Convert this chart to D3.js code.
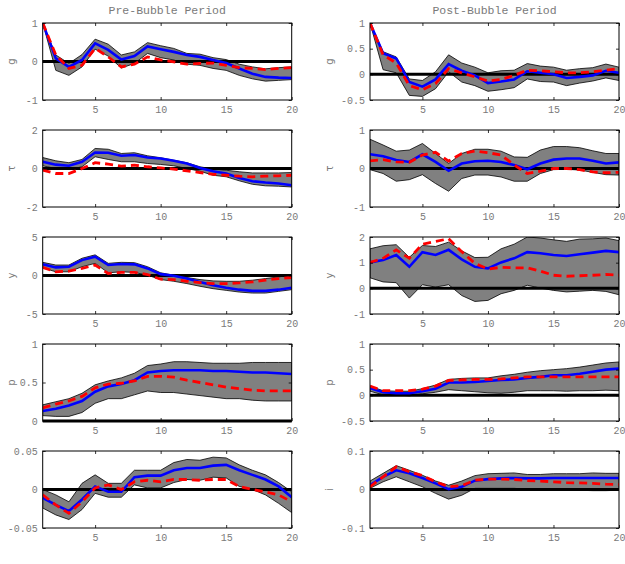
<!DOCTYPE html>
<html>
<head>
<meta charset="utf-8">
<script src="https://cdn.jsdelivr.net/npm/d3@7"></script>
<style>
  body { margin: 0; background: #fff; }
  .tk text { font-family: "Liberation Mono", "DejaVu Sans Mono", monospace; font-size: 10px; fill: #7a7a7a; }
  .tk line { stroke: #000; stroke-width: 0.8; }
  .ttl { font-family: "Liberation Mono", "DejaVu Sans Mono", monospace; font-size: 11.5px; fill: #7a7a7a; }
  .ylab { font-family: "DejaVu Sans", sans-serif; font-size: 10px; fill: #7a7a7a; }
</style>
</head>
<body>
<script>
// horizons
var horizon = [1,2,3,4,5,6,7,8,9,10,11,12,13,14,15,16,17,18,19,20];

// ---- Pre-Bubble ----
var gPreBlue = [1,0.08,-0.14,0.04,0.47,0.3,0.05,0.14,0.39,0.32,0.25,0.17,0.12,0.04,-0.04,-0.18,-0.32,-0.4,-0.42,-0.43];
var gPreRed  = [1,0.17,-0.18,-0.1,0.34,0.12,-0.14,-0.07,0.12,0.04,-0.01,-0.07,-0.05,-0.04,-0.1,-0.16,-0.18,-0.21,-0.18,-0.16];
var gPreHi   = [1,0.17,-0.05,0.18,0.58,0.45,0.17,0.25,0.49,0.41,0.34,0.21,0.19,0.1,0.05,-0.07,-0.14,-0.19,-0.16,-0.14];
var gPreLo   = [1,-0.23,-0.36,-0.14,0.32,0.14,-0.17,-0.05,0.21,0.1,0.04,-0.07,-0.1,-0.18,-0.23,-0.36,-0.45,-0.51,-0.49,-0.47];

var tPreBlue = [0.35,0.2,0.14,0.35,0.83,0.82,0.66,0.7,0.57,0.52,0.4,0.26,0.03,-0.14,-0.26,-0.49,-0.66,-0.73,-0.78,-0.87];
var tPreRed  = [-0.09,-0.26,-0.26,0,0.3,0.23,0.12,0.17,0.09,0.03,-0.03,-0.12,-0.21,-0.3,-0.35,-0.4,-0.43,-0.4,-0.38,-0.35];
var tPreHi   = [0.57,0.4,0.3,0.47,1.04,1.0,0.78,0.82,0.66,0.56,0.43,0.3,0.09,-0.03,-0.09,-0.17,-0.23,-0.23,-0.23,-0.21];
var tPreLo   = [0.14,0,-0.05,0.09,0.61,0.47,0.35,0.35,0.26,0.21,0.14,0,-0.14,-0.35,-0.43,-0.64,-0.82,-0.9,-0.92,-0.96];

var yPreBlue = [1.45,1.05,1.14,2.0,2.45,1.36,1.5,1.45,0.92,0.18,-0.04,-0.4,-0.83,-1.27,-1.58,-1.84,-2.0,-2.0,-1.84,-1.58];
var yPreRed  = [1.05,0.48,0.57,0.92,1.36,0.26,0.4,0.4,0.13,-0.48,-0.53,-0.75,-0.92,-1.05,-1.05,-0.96,-0.83,-0.61,-0.4,-0.26];
var yPreHi   = [1.71,1.36,1.36,2.24,2.68,1.58,1.71,1.67,1.14,0.35,0.04,-0.26,-0.53,-0.7,-0.75,-0.75,-0.61,-0.4,-0.18,0.04];
var yPreLo   = [1.0,0.48,0.48,1.14,1.58,0.35,0.48,0.4,0.04,-0.53,-0.75,-1.05,-1.4,-1.71,-1.93,-2.15,-2.28,-2.28,-2.06,-1.84];

var pPreBlue = [0.13,0.16,0.2,0.26,0.38,0.45,0.48,0.53,0.63,0.65,0.66,0.66,0.66,0.65,0.65,0.64,0.63,0.63,0.62,0.61];
var pPreRed  = [0.17,0.22,0.26,0.32,0.43,0.48,0.49,0.52,0.58,0.58,0.57,0.53,0.5,0.47,0.44,0.42,0.4,0.39,0.39,0.39];
var pPreHi   = [0.21,0.25,0.29,0.36,0.47,0.52,0.56,0.62,0.72,0.74,0.77,0.77,0.76,0.75,0.75,0.75,0.76,0.76,0.76,0.76];
var pPreLo   = [0.07,0.06,0.06,0.11,0.23,0.29,0.29,0.34,0.39,0.37,0.37,0.35,0.33,0.31,0.29,0.29,0.27,0.26,0.26,0.26];

var iPreBlue = [-0.011,-0.02,-0.028,-0.013,0.004,-0.003,-0.003,0.016,0.018,0.018,0.025,0.028,0.028,0.031,0.032,0.025,0.019,0.013,0.004,-0.01];
var iPreRed  = [-0.007,-0.02,-0.031,-0.016,0.002,0.006,0,0.01,0.012,0.01,0.013,0.013,0.012,0.013,0.013,0.004,0,-0.003,-0.007,-0.016];
var iPreHi   = [0,-0.007,-0.016,0.008,0.019,0.008,0.008,0.025,0.025,0.025,0.035,0.039,0.038,0.042,0.041,0.032,0.025,0.019,0.009,-0.003];
var iPreLo   = [-0.024,-0.033,-0.039,-0.026,-0.005,-0.01,-0.01,0.006,0.002,0.002,0.009,0.013,0.012,0.016,0.015,0.004,0,-0.007,-0.018,-0.03];

// ---- Post-Bubble ----
var gPostBlue = [1,0.41,0.31,-0.15,-0.24,-0.1,0.2,0.07,-0.02,-0.17,-0.14,-0.1,0.06,0.03,0,-0.07,-0.05,-0.02,0.07,0.03];
var gPostRed  = [1,0.38,0.22,-0.22,-0.3,-0.18,0.11,0.03,-0.05,-0.13,-0.1,-0.02,0.08,0.07,0.05,0.03,0.03,0.05,0.08,0.11];
var gPostHi   = [1,0.44,0.34,-0.09,-0.12,0.05,0.38,0.22,0.14,0.03,0.07,0.08,0.21,0.16,0.14,0.08,0.11,0.13,0.2,0.14];
var gPostLo   = [1,0.09,0.03,-0.41,-0.43,-0.28,0.05,-0.15,-0.22,-0.33,-0.3,-0.26,-0.09,-0.14,-0.15,-0.22,-0.17,-0.13,-0.07,-0.12];

var tPostBlue = [0.37,0.32,0.22,0.17,0.37,0.17,-0.06,0.13,0.19,0.2,0.17,0.09,-0.02,0.13,0.23,0.26,0.26,0.2,0.13,0.16];
var tPostRed  = [0.2,0.23,0.17,0.16,0.35,0.42,0.19,0.39,0.45,0.41,0.35,0.09,-0.13,-0.07,0,0,-0.03,-0.09,-0.11,-0.1];
var tPostHi   = [0.76,0.61,0.45,0.48,0.65,0.39,0.13,0.39,0.5,0.5,0.45,0.3,0.29,0.48,0.57,0.57,0.54,0.46,0.39,0.39];
var tPostLo   = [-0.03,-0.13,-0.33,-0.29,-0.16,-0.39,-0.59,-0.26,-0.17,-0.17,-0.22,-0.33,-0.33,-0.13,-0.03,-0.02,-0.04,-0.1,-0.16,-0.17];

var yPostBlue = [1.01,1.1,1.3,0.84,1.41,1.3,1.5,1.13,0.84,0.78,1.01,1.17,1.41,1.37,1.3,1.26,1.33,1.39,1.46,1.41];
var yPostRed  = [1.01,1.17,1.5,1.17,1.72,1.83,1.93,1.43,0.97,0.75,0.82,0.8,0.8,0.67,0.51,0.47,0.49,0.51,0.54,0.51];
var yPostHi   = [1.54,1.66,1.7,1.21,1.67,1.63,1.8,1.46,1.2,1.21,1.54,1.72,2.0,1.96,1.89,1.83,1.92,1.93,1.96,1.86];
var yPostLo   = [0.41,0.25,0.22,-0.38,0.14,0.05,0.14,-0.28,-0.51,-0.47,-0.21,-0.08,0.12,0.01,-0.08,-0.14,-0.11,-0.08,-0.12,-0.25];

var pPostBlue = [0.14,0.06,0.04,0.04,0.08,0.13,0.25,0.25,0.26,0.28,0.3,0.31,0.34,0.36,0.39,0.39,0.42,0.46,0.5,0.52];
var pPostRed  = [0.18,0.09,0.09,0.09,0.12,0.18,0.29,0.3,0.31,0.31,0.32,0.34,0.36,0.36,0.36,0.36,0.36,0.36,0.36,0.36];
var pPostHi   = [0.18,0.09,0.08,0.08,0.13,0.2,0.31,0.33,0.34,0.34,0.38,0.41,0.45,0.48,0.5,0.52,0.55,0.59,0.63,0.65];
var pPostLo   = [0.08,0.01,0.01,-0.01,0.03,0.06,0.11,0.09,0.07,0.05,0.04,0.06,0.09,0.09,0.09,0.08,0.09,0.09,0.1,0.09];

var iPostBlue = [0.011,0.033,0.05,0.042,0.03,0.016,0.001,0.007,0.023,0.027,0.029,0.03,0.029,0.029,0.03,0.03,0.03,0.03,0.03,0.03];
var iPostRed  = [0.007,0.033,0.059,0.046,0.036,0.02,0.007,0.01,0.024,0.027,0.027,0.026,0.023,0.022,0.02,0.018,0.017,0.016,0.014,0.013];
var iPostHi   = [0.022,0.042,0.062,0.05,0.037,0.022,0.011,0.022,0.036,0.041,0.042,0.043,0.039,0.039,0.041,0.041,0.041,0.043,0.042,0.042];
var iPostLo   = [0.003,0.02,0.033,0.02,0.007,-0.01,-0.025,-0.015,0.003,0.003,0.003,0.003,0.001,0.001,0.001,0.001,-0.002,-0.003,-0.003,-0.002];

var titles = ["Pre-Bubble Period", "Post-Bubble Period"];
var xTicks = [5, 10, 15, 20];

// one entry per panel: [column, row, label, yDomain, yTicks, tickLabels, blue, red, lo, hi]
var panels = [
  [0, 0, "g", [-1, 1], [-1, 0, 1], ["-1", "0", "1"], gPreBlue, gPreRed, gPreLo, gPreHi],
  [0, 1, "\u03c4", [-2, 2], [-2, 0, 2], ["-2", "0", "2"], tPreBlue, tPreRed, tPreLo, tPreHi],
  [0, 2, "y", [-5, 5], [-5, 0, 5], ["-5", "0", "5"], yPreBlue, yPreRed, yPreLo, yPreHi],
  [0, 3, "p", [0, 1], [0, 0.5, 1], ["0", "0.5", "1"], pPreBlue, pPreRed, pPreLo, pPreHi],
  [0, 4, "", [-0.05, 0.05], [-0.05, 0, 0.05], ["-0.05", "0", "0.05"], iPreBlue, iPreRed, iPreLo, iPreHi],
  [1, 0, "g", [-0.5, 1], [-0.5, 0, 0.5, 1], ["-0.5", "0", "0.5", "1"], gPostBlue, gPostRed, gPostLo, gPostHi],
  [1, 1, "\u03c4", [-1, 1], [-1, 0, 1], ["-1", "0", "1"], tPostBlue, tPostRed, tPostLo, tPostHi],
  [1, 2, "y", [-1, 2], [-1, 0, 1, 2], ["-1", "0", "1", "2"], yPostBlue, yPostRed, yPostLo, yPostHi],
  [1, 3, "p", [-0.5, 1], [-0.5, 0, 0.5, 1], ["-0.5", "0", "0.5", "1"], pPostBlue, pPostRed, pPostLo, pPostHi],
  [1, 4, "i", [-0.1, 0.1], [-0.1, 0, 0.1], ["-0.1", "0", "0.1"], iPostBlue, iPostRed, iPostLo, iPostHi]
];

var W = 625, H = 564;
var colLeft = [42.7, 370], pw = 249;
var rowTop = [23, 130, 237, 344, 451], ph = 77;

var svg = d3.select("body").append("svg")
    .attr("width", W)
    .attr("height", H);

// titles
titles.forEach(function(t, c) {
  svg.append("text")
    .attr("class", "ttl")
    .attr("x", colLeft[c] + pw / 2)
    .attr("y", 14)
    .attr("text-anchor", "middle")
    .text(t);
});

panels.forEach(function(p) {
  var c = p[0], r = p[1];
  var g = svg.append("g")
    .attr("transform", "translate(" + colLeft[c] + "," + rowTop[r] + ")");

  var x = d3.scaleLinear().domain([1, 20]).range([0, pw]);
  var y = d3.scaleLinear().domain(p[3]).range([ph, 0]);

  var data = horizon.map(function(h, i) {
    return {h: h, blue: p[6][i], red: p[7][i], lo: p[8][i], hi: p[9][i]};
  });

  g.append("defs").append("clipPath").attr("id", "clip" + c + r)
    .append("rect").attr("width", pw).attr("height", ph);
  var plot = g.append("g").attr("clip-path", "url(#clip" + c + r + ")");

  // band
  var area = d3.area()
    .x(function(d) { return x(d.h); })
    .y0(function(d) { return y(d.lo); })
    .y1(function(d) { return y(d.hi); });
  plot.append("path")
    .datum(data)
    .attr("d", area)
    .attr("fill", "#808080")
    .attr("stroke", "#000")
    .attr("stroke-width", 0.8);

  // zero line (not clipped, sits on the axis in the p panel)
  g.append("line")
    .attr("x1", 0).attr("x2", pw)
    .attr("y1", y(0)).attr("y2", y(0))
    .attr("stroke", "#000")
    .attr("stroke-width", 3);

  var line = function(key) {
    return d3.line()
      .x(function(d) { return x(d.h); })
      .y(function(d) { return y(d[key]); });
  };
  var lines = g.append("g").attr("clip-path", "url(#clip" + c + r + ")");
  lines.append("path")
    .datum(data)
    .attr("d", line("blue"))
    .attr("fill", "none")
    .attr("stroke", "#0000ff")
    .attr("stroke-width", 2.6);
  lines.append("path")
    .datum(data)
    .attr("d", line("red"))
    .attr("fill", "none")
    .attr("stroke", "#ff0000")
    .attr("stroke-width", 2.8)
    .attr("stroke-dasharray", "8,5");

  // axes, ticks inside like matlab
  g.append("g").attr("class", "tk")
    .attr("transform", "translate(0," + ph + ")")
    .call(d3.axisBottom(x).tickValues(xTicks).tickSize(-3).tickPadding(6).tickFormat(d3.format("d")));
  g.append("g").attr("class", "tk")
    .call(d3.axisTop(x).tickValues(xTicks).tickSize(-3).tickFormat(""));
  g.append("g").attr("class", "tk")
    .call(d3.axisLeft(y).tickValues(p[4]).tickSize(-3).tickPadding(5)
      .tickFormat(function(d, i) { return p[5][i]; }));
  g.append("g").attr("class", "tk")
    .attr("transform", "translate(" + pw + ",0)")
    .call(d3.axisRight(y).tickValues(p[4]).tickSize(-3).tickFormat(""));
  g.selectAll(".tk .domain").remove();

  g.append("rect")
    .attr("width", pw).attr("height", ph)
    .attr("fill", "none")
    .attr("stroke", "#000")
    .attr("stroke-width", 1);

  if (p[2]) {
    g.append("text")
      .attr("class", "ylab")
      .attr("transform", "translate(" + (c == 0 ? -28 : -37) + "," + (ph / 2) + ") rotate(-90)")
      .attr("text-anchor", "middle")
      .text(p[2]);
  }
});
</script>
</body>
</html>
